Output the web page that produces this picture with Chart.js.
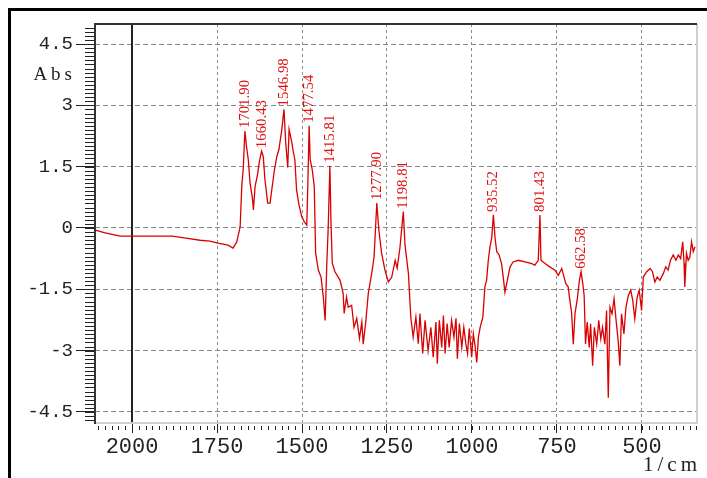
<!DOCTYPE html>
<html>
<head>
<meta charset="utf-8">
<script src="https://cdn.jsdelivr.net/npm/chart.js@4.4.0/dist/chart.umd.min.js"></script>
<style>
html,body{margin:0;padding:0;background:#fff;overflow:hidden}
#wrap{position:relative;width:707px;height:478px}
</style>
</head>
<body>
<div id="wrap"><canvas id="chart-ir"></canvas></div>
<script>
// ── DATA ─────────────────────────────────────────────────
const wavenumber = [2108,2079,2035,2000,1947,1882,1841,1800,1771,1747,
    1718,1703,1692,1682,1677,1673,1668,1663,1658,1653,
    1646,1643,1638,1631,1626,1619,1614,1609,1601,1594,
    1589,1581,1574,1568,1560,1553,1548,1542,1538,1530,
    1526,1521,1516,1509,1501,1493,1486,1483,1479,1476,
    1470,1464,1460,1452,1444,1437,1432,1427,1423,1418,
    1415,1411,1403,1388,1379,1376,1369,1364,1354,1347,
    1339,1331,1324,1320,1313,1305,1295,1288,1280,1274,
    1266,1256,1246,1236,1226,1220,1212,1202,1197,1187,
    1180,1173,1165,1158,1153,1145,1138,1129,1121,1114,
    1106,1102,1096,1089,1084,1079,1073,1067,1060,1053,
    1047,1043,1037,1030,1024,1018,1013,1008,1001,996,
    991,986,981,976,968,962,957,952,947,942,
    937,932,927,920,913,908,903,896,888,879,
    864,844,824,815,805,800,797,785,771,756,
    746,736,729,724,717,712,707,702,697,690,
    684,679,674,670,666,661,655,651,645,640,
    633,627,621,616,609,604,599,594,588,582,
    576,570,565,560,553,547,540,533,527,521,
    514,508,501,496,486,476,469,462,455,447,
    437,430,423,416,408,400,393,386,380,376,
    374,369,364,359,354,349,344];
const absorbance = [-0.05,-0.12,-0.20,-0.20,-0.20,-0.20,-0.25,-0.30,-0.32,-0.37,
    -0.42,-0.49,-0.34,0.03,1.06,1.43,2.37,1.97,1.67,1.11,
    0.74,0.44,1.02,1.30,1.60,1.88,1.75,1.18,0.61,0.61,
    0.93,1.43,1.75,1.92,2.37,2.90,2.09,1.48,2.41,2.09,
    1.88,1.67,0.93,0.57,0.28,0.15,0.07,1.02,2.50,1.67,
    1.43,1.02,-0.61,-1.03,-1.20,-1.72,-2.26,-0.86,0.00,1.52,
    0.20,-0.86,-1.07,-1.28,-1.60,-2.09,-1.69,-1.94,-1.89,-2.43,
    -2.21,-2.70,-2.30,-2.84,-2.34,-1.60,-1.11,-0.71,0.61,-0.05,
    -0.61,-1.03,-1.32,-1.20,-0.79,-0.98,-0.49,0.40,-0.42,-1.11,
    -2.18,-2.67,-2.18,-2.83,-2.09,-3.07,-2.26,-3.00,-2.43,-3.16,
    -2.30,-3.32,-2.26,-2.92,-2.14,-3.07,-2.34,-2.92,-2.26,-2.67,
    -2.21,-3.20,-2.34,-2.92,-2.43,-2.83,-3.07,-2.46,-3.16,-2.59,
    -2.88,-3.29,-2.67,-2.43,-2.18,-1.44,-1.28,-0.79,-0.46,-0.25,
    0.32,-0.25,-0.58,-0.66,-0.87,-1.20,-1.57,-1.28,-0.95,-0.83,
    -0.79,-0.83,-0.87,-0.91,-0.79,0.32,-0.79,-0.87,-0.95,-1.03,
    -1.16,-0.99,-1.20,-1.36,-1.44,-1.77,-2.06,-2.84,-2.10,-1.73,
    -1.28,-1.07,-1.36,-1.65,-2.84,-2.30,-2.92,-2.34,-3.37,-2.43,
    -2.84,-2.26,-2.71,-2.43,-2.84,-2.02,-4.15,-1.94,-2.10,-1.73,
    -2.26,-2.75,-3.37,-2.10,-2.59,-1.94,-1.65,-1.52,-1.77,-2.22,
    -1.69,-1.52,-2.02,-1.20,-1.07,-0.99,-1.07,-1.32,-1.20,-1.28,
    -1.11,-0.95,-1.03,-0.79,-0.66,-0.79,-0.66,-0.75,-0.34,-0.87,
    -1.44,-0.62,-0.79,-0.71,-0.34,-0.58,-0.46];

// peak annotations: printed text + where the peak sits on the trace
const peakText = ['1701.90','1660.43','1546.98','1477.54','1415.81','1277.90','1198.81','935.52','801.43','662.58'];
const peakX    = [1668,1617,1553,1479,1417,1280,1202,937,800,679];
const peakY    = [2.37,1.88,2.90,2.50,1.52,0.61,0.40,0.32,0.32,-1.07];

const xTicks = [2000,1750,1500,1250,1000,750,500];
const yTicks = [4.5,3,1.5,0,-1.5,-3,-4.5];
const xRange = [338,2109];
const yRange = [-4.77,4.99];

// ── DECORATION PLUGIN ────────────────────────────────────
const irDecor = {
    id:'irDecor',
    beforeDraw(chart){
        const c = chart.ctx;
        c.save();
        c.fillStyle='#fff'; c.fillRect(0,0,chart.width,chart.height);
        // outer window frame (only top/left visible in the crop)
        c.fillStyle='#000';
        c.fillRect(8,8,chart.width-8,3);
        c.fillRect(8,8,3,chart.height-8);
        c.restore();
    },
    beforeDatasetsDraw(chart){
        const c = chart.ctx, a = chart.chartArea, x = chart.scales.x, y = chart.scales.y;
        c.save();
        // minor ticks
        c.strokeStyle='#222'; c.lineWidth=1;
        c.beginPath();
        for(let v=340; v<=2100; v+=20){
            const px=Math.round(x.getPixelForValue(v))+0.5;
            c.moveTo(px,a.bottom+3); c.lineTo(px,a.bottom+7);
        }
        for(let i=-47;i<=49;i++){
            const py=Math.round(y.getPixelForValue(i/10))+0.5;
            c.moveTo(a.left-10,py); c.lineTo(a.left,py);
        }
        c.stroke();
        // solid marker line at 2000
        const px2=Math.round(x.getPixelForValue(2000));
        c.fillStyle='#222';
        c.fillRect(px2-1,a.top,2,a.bottom-a.top);
        // sunken plot frame
        c.fillStyle='#cfcfcf';
        c.fillRect(a.right-1,a.top,2,a.bottom-a.top+1);
        c.fillRect(a.left,a.bottom-1,a.right-a.left+1,2);
        c.fillStyle='#333';
        c.fillRect(a.left-1,a.top-1,a.right-a.left+1,2);
        c.fillRect(a.left-1,a.top-1,2,a.bottom-a.top+2);
        c.restore();
    },
    afterDatasetsDraw(chart){
        const c = chart.ctx, a = chart.chartArea, x = chart.scales.x, y = chart.scales.y;
        c.save();
        c.fillStyle='#e01010';
        c.font='13px "Liberation Serif", serif';
        c.textAlign='left'; c.textBaseline='middle';
        peakText.forEach((t,i)=>{
            c.save();
            c.translate(x.getPixelForValue(peakX[i]), y.getPixelForValue(peakY[i])-3);
            c.rotate(-Math.PI/2);
            c.scale(1.14,1.1);
            c.fillText(t,0,0);
            c.restore();
        });
        // axis titles
        c.fillStyle='#222';
        c.font='19px "Liberation Serif", serif';
        c.letterSpacing='4px';
        c.textAlign='right'; c.textBaseline='middle';
        c.fillText('Abs',a.left-19,y.getPixelForValue(3.75));
        c.font='21px "Liberation Serif", serif';
        c.letterSpacing='4px';
        c.textBaseline='alphabetic';
        c.fillText('1/cm',a.right+4,chart.height-7);
        c.restore();
    }
};

// ── CHART ────────────────────────────────────────────────
const tickFont = size => ({family:'"Liberation Mono", monospace', size});
new Chart(document.getElementById('chart-ir'),{
    type:'line',
    data:{datasets:[{
        data:wavenumber.map((w,i)=>({x:w,y:absorbance[i]})),
        borderColor:'#d80000',borderWidth:1.3,pointRadius:0,tension:0,fill:false
    }]},
    options:{
        responsive:true,maintainAspectRatio:false,animation:false,devicePixelRatio:1,
        layout:{padding:{top:24,right:10,left:0,bottom:0}},
        plugins:{legend:{display:false},tooltip:{enabled:false}},
        scales:{
            x:{type:'linear',reverse:true,min:xRange[0],max:xRange[1],
                afterBuildTicks:s=>{s.ticks=xTicks.map(v=>({value:v}));},
                afterFit:s=>{s.height=55;},
                grid:{color:'#8a8a8a',lineWidth:1,tickLength:10,tickColor:'#222'},
                border:{display:false,dash:[3,3]},
                ticks:{font:tickFont(22),color:'#222',padding:1,maxRotation:0,autoSkip:false,callback:v=>String(v)}},
            y:{type:'linear',min:yRange[0],max:yRange[1],
                afterBuildTicks:s=>{s.ticks=yTicks.map(v=>({value:v}));},
                afterFit:s=>{s.width=95;},
                grid:{color:'#8a8a8a',lineWidth:1,tickLength:19,tickColor:'#222'},
                border:{display:false,dash:[5,3]},
                ticks:{font:tickFont(19),color:'#222',padding:3,autoSkip:false,callback:v=>String(v)}}
        }
    },
    plugins:[irDecor]
});
</script>
</body>
</html>
